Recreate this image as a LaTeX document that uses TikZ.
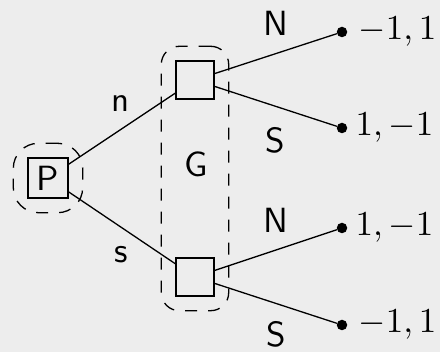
\documentclass[tikz,border=0pt]{standalone}
\usetikzlibrary{fit}
\definecolor{bg}{RGB}{237,237,237}
% labels are set at 10pt and enlarged as a whole
\newcommand\enlarged[1]{\scalebox{3.5}{#1}}
\tikzset{
  lbl/.style={font=\sffamily, inner sep=0pt},
  pay/.style={inner sep=0pt, anchor=west},
  player/.style={draw, line width=1.4pt, minimum size=38pt, inner sep=0pt,
                 font=\sffamily},
  group/.style={draw, dash pattern=on 12pt off 11pt, line width=1.3pt,
                rounded corners=18pt, inner sep=14pt},
  leaf/.style={circle, fill, minimum size=10.5pt, inner sep=0pt},
  branch/.style={line width=1.3pt},
}
\begin{document}
\begin{tikzpicture}[x=1pt, y=-1pt]
  \fill[bg] (0,0) rectangle (440,352);
  \useasboundingbox (0,0) rectangle (440,352);

  % decision nodes
  \node[player, minimum size=40pt] (P) at (48,178) {\enlarged{P}};
  \node[player] (g1) at (195,80) {};
  \node[player] (g2) at (195,277) {};

  % information sets
  \node[group, rounded corners=25pt, fit=(P)] (hP) {};
  \node[group, fit=(g1)(g2)] (hG) {};
  \node[lbl] (G) at (196,164) {\enlarged{G}};

  % terminal nodes
  \node[leaf] (t1) at (342,32) {};
  \node[leaf] (t2) at (342,128) {};
  \node[leaf] (t3) at (342,228) {};
  \node[leaf] (t4) at (342,325) {};

  % moves
  \draw[branch] (P) -- (g1);
  \draw[branch] (P) -- (g2);
  \draw[branch] (g1) -- (t1);
  \draw[branch] (g1) -- (t2);
  \draw[branch] (g2) -- (t3);
  \draw[branch] (g2) -- (t4);

  % move labels
  \node[lbl] (ln) at (120.5,104) {\enlarged{n}};
  \node[lbl] (ls) at (121,255) {\enlarged{s}};
  \node[lbl] (lN1) at (276,23) {\enlarged{N}};
  \node[lbl] (lS1) at (275,140) {\enlarged{S}};
  \node[lbl] (lN2) at (276,220) {\enlarged{N}};
  \node[lbl] (lS2) at (276,334) {\enlarged{S}};

  % payoffs
  \node[pay] (p1) at ([xshift=11pt]t1.east) {\enlarged{$-1,1$}};
  \node[pay] (p2) at ([xshift=8pt]t2.east) {\enlarged{$1,-1$}};
  \node[pay] (p3) at ([xshift=8pt]t3.east) {\enlarged{$1,-1$}};
  \node[pay] (p4) at ([xshift=11pt]t4.east) {\enlarged{$-1,1$}};
\end{tikzpicture}
\end{document}
